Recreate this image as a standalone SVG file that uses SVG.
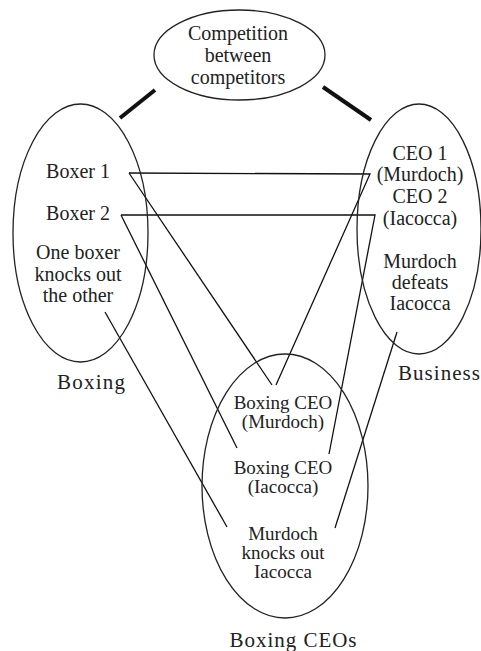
<svg xmlns="http://www.w3.org/2000/svg" width="481" height="651" viewBox="0 0 481 651">
<style>
.bg{fill:#ffffff}
.ell{fill:none;stroke:#222;stroke-width:1.3}
.ln{fill:none;stroke:#111;stroke-width:1.3}
.thick{stroke:#111;stroke-width:4;stroke-linecap:butt}
text{font-family:Liberation Serif,Tinos,Times New Roman,Times,DejaVu Serif,Noto Serif,FreeSerif,serif;font-size:20px;fill:#222;text-anchor:middle}
.lbl{font-size:21px}
.sm{font-size:19px}
</style>
<rect class="bg" x="0" y="0" width="481" height="651"/>
<g id="connectors">
<line class="thick" x1="120" y1="118" x2="155" y2="90"/>
<line class="thick" x1="323" y1="87" x2="371" y2="120"/>
<polyline class="ln" points="129,173 370,174 276,385"/>
<line class="ln" x1="129" y1="173" x2="272" y2="385"/>
<polyline class="ln" points="121,215 375,215 329,454"/>
<line class="ln" x1="121" y1="215" x2="237" y2="448"/>
<line class="ln" x1="105" y1="312" x2="227" y2="527"/>
<line class="ln" x1="397" y1="332" x2="335" y2="528"/>
</g>
<g id="competition">
<ellipse class="ell" cx="239.5" cy="55" rx="85.5" ry="45"/>
<text x="238" y="40">Competition</text>
<text x="238" y="62">between</text>
<text x="238" y="84">competitors</text>
</g>
<g id="boxing">
<ellipse class="ell" cx="80.5" cy="233" rx="67.5" ry="129"/>
<text x="78" y="178">Boxer 1</text>
<text x="78" y="220">Boxer 2</text>
<text x="78" y="259">One boxer</text>
<text x="78" y="281">knocks out</text>
<text x="78" y="302">the other</text>
<text class="lbl" x="91" y="389" textLength="68" lengthAdjust="spacing">Boxing</text>
</g>
<g id="business">
<ellipse class="ell" cx="419" cy="229" rx="62" ry="125"/>
<text x="420" y="160">CEO 1</text>
<text x="420" y="181">(Murdoch)</text>
<text x="420" y="203">CEO 2</text>
<text x="420" y="225">(Iacocca)</text>
<text x="420" y="268">Murdoch</text>
<text x="420" y="289">defeats</text>
<text x="420" y="310">Iacocca</text>
<text class="lbl" x="439" y="380" textLength="82" lengthAdjust="spacing">Business</text>
</g>
<g id="boxingceos">
<ellipse class="ell" cx="285" cy="486" rx="83" ry="132"/>
<text class="sm" x="283" y="409">Boxing CEO</text>
<text class="sm" x="283" y="428">(Murdoch)</text>
<text class="sm" x="283" y="474">Boxing CEO</text>
<text class="sm" x="283" y="493">(Iacocca)</text>
<text class="sm" x="283" y="540">Murdoch</text>
<text class="sm" x="283" y="559">knocks out</text>
<text class="sm" x="283" y="578">Iacocca</text>
<text class="lbl" x="293" y="647" textLength="127" lengthAdjust="spacing">Boxing CEOs</text>
</g>
</svg>
